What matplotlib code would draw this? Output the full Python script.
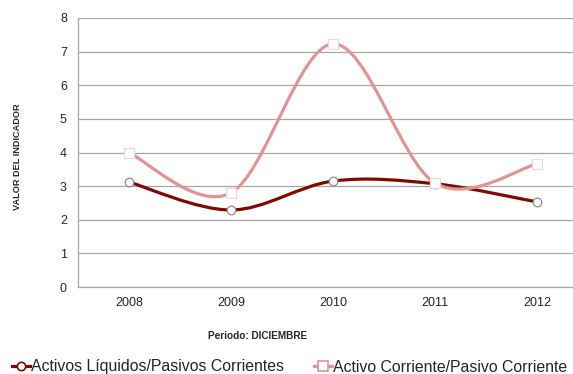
import numpy as np
import matplotlib
matplotlib.use("Agg")
import matplotlib.pyplot as plt
from matplotlib.path import Path
from matplotlib.patches import PathPatch
from matplotlib.lines import Line2D

years = ["2008", "2009", "2010", "2011", "2012"]
liquidos = [3.12, 2.29, 3.15, 3.07, 2.53]
corriente = [3.99, 2.80, 7.23, 3.09, 3.66]
series_names = ["Activos Líquidos/Pasivos Corrientes",
                "Activo Corriente/Pasivo Corriente"]

dark_red = "#7f0a02"
pink = "#dc9695"
grid_col = "#a6a6a6"
text_col = "#262626"


def smooth_path(x, y):
    """Bezier path through the points with spreadsheet-style smoothing."""
    pts = np.column_stack([x, y]).astype(float)
    n = len(pts)
    verts = [pts[0]]
    codes = [Path.MOVETO]
    for i in range(n - 1):
        p0 = pts[i - 1] if i > 0 else pts[i]
        p1 = pts[i]
        p2 = pts[i + 1]
        p3 = pts[i + 2] if i + 2 < n else pts[i + 1]
        c1 = p1 + (p2 - p0) / 6.0
        c2 = p2 - (p3 - p1) / 6.0
        verts += [c1, c2, p2]
        codes += [Path.CURVE4] * 3
    return Path(verts, codes)


fig = plt.figure(figsize=(5.73, 3.74), dpi=100)
ax = fig.add_axes([78 / 573, (374 - 287) / 374, (588 - 78) / 573, (287 - 18) / 374])

xs = np.arange(len(years))
for vals, col in ((liquidos, dark_red), (corriente, pink)):
    ax.add_patch(PathPatch(smooth_path(xs, vals), facecolor="none",
                           edgecolor=col, lw=2.3, capstyle="round",
                           joinstyle="round", zorder=3))

ax.plot(xs, liquidos, ls="none", marker="o", ms=6.2, mfc="white",
        mec="#8c8c8c", mew=0.9, zorder=4)
ax.plot(xs, corriente, ls="none", marker="s", ms=7, mfc="white",
        mec="#e8d8d8", mew=0.9, zorder=4)

ax.set_xlim(-0.5, len(years) - 0.5)
ax.set_ylim(0, 8)
ax.set_yticks(range(0, 9))
ax.set_xticks(xs)
ax.set_xticklabels(years)
ax.grid(axis="y", color=grid_col, lw=0.9)
ax.set_axisbelow(True)
for s in ("top", "right"):
    ax.spines[s].set_visible(False)
for s in ("left", "bottom"):
    ax.spines[s].set_color(grid_col)
    ax.spines[s].set_linewidth(0.9)
ax.tick_params(length=0, labelsize=9, colors=text_col)
ax.tick_params(axis="x", pad=7.5)
ax.tick_params(axis="y", pad=8)
for lbl in ax.get_xticklabels() + ax.get_yticklabels():
    lbl.set_family(["Liberation Sans", "DejaVu Sans"])

fig.text(18 / 573, 1 - 157 / 374, "VALOR DEL INDICADOR", rotation=90,
         ha="center", va="center", fontsize=6.6, fontweight="bold",
         color=text_col, family=["Liberation Sans Narrow", "Liberation Sans"])
fig.text(258 / 573, 1 - 336 / 374, "Periodo: DICIEMBRE", ha="center",
         va="center", fontsize=7.2, fontweight="bold", color=text_col,
         family=["Liberation Sans Narrow", "Liberation Sans"])

handles = [
    Line2D([], [], color=dark_red, lw=2.3, marker="o", ms=6, mfc="white",
           mec=dark_red, mew=1.2),
    Line2D([], [], color=pink, lw=2.3, marker="s", ms=6.5, mfc="white",
           mec=pink, mew=1.2),
]
leg = fig.legend(handles, series_names, loc="center left",
                 bbox_to_anchor=(6 / 573, 1 - 367 / 374), ncol=2,
                 frameon=False, handlelength=1.1, handletextpad=0.1,
                 columnspacing=1.9, borderaxespad=0,
                 prop={"family": ["Liberation Sans", "DejaVu Sans"], "size": 11.4})
for t in leg.get_texts():
    t.set_color(text_col)

fig.savefig("out.png", dpi=100)
